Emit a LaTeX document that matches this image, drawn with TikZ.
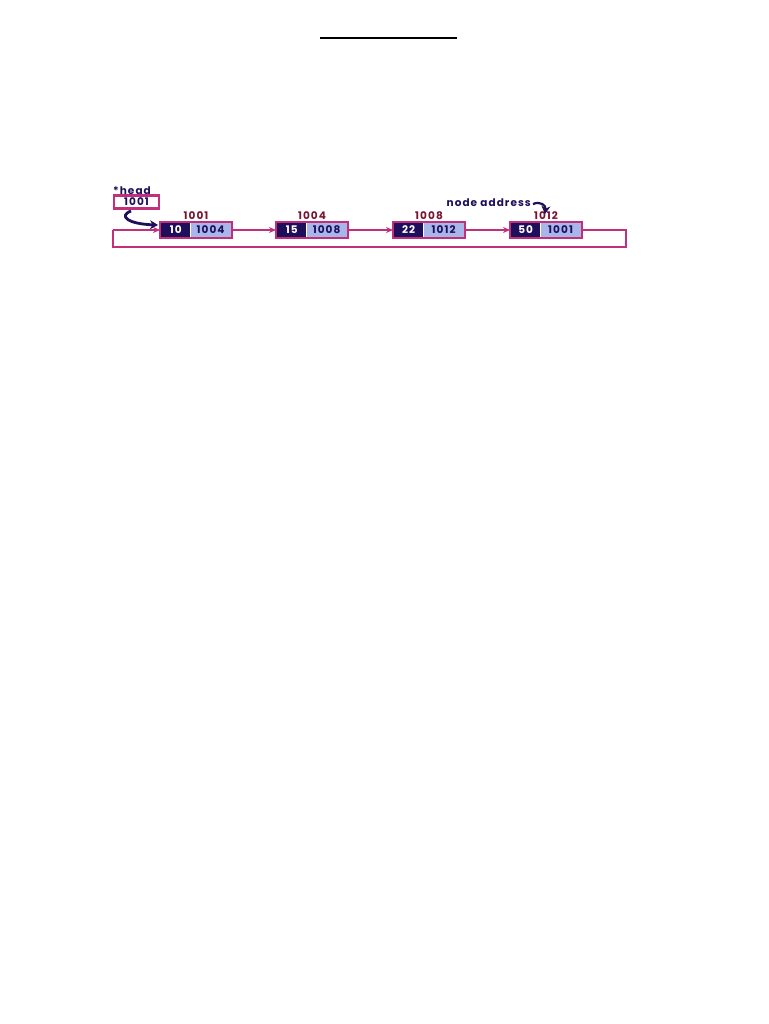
\documentclass[tikz,border=0pt]{standalone}
\usepackage{fontspec}
\setmainfont{Poppins}[LetterSpace=10]
\usetikzlibrary{arrows.meta}
\definecolor{mag}{HTML}{C2307C}
\definecolor{navy}{HTML}{1E0E5C}
\definecolor{lite}{HTML}{A8B6EA}
\definecolor{maroon}{HTML}{7A1430}
\tikzset{
  txt/.style={font=\fontsize{10.5}{10.5}\selectfont\bfseries},
  dk/.style={txt, fill=navy, text=white, minimum width=29pt, minimum height=14pt, inner sep=0pt},
  lt/.style={txt, fill=lite, text=navy, minimum width=40pt, minimum height=14pt, inner sep=0pt},
  frame/.style={draw=mag, line width=2pt},
  addr/.style={txt, text=maroon, inner sep=0pt},
  link/.style={draw=mag, line width=1.3pt, -{Stealth[length=7pt,width=6pt]}},
  ring/.style={draw=mag, line width=1.3pt},
  curv/.style={draw=navy, line width=2.8pt, -{Stealth[length=8pt,width=9pt]}}
}
\begin{document}
\begin{tikzpicture}[x=1pt,y=-1pt]
\useasboundingbox (0,0) rectangle (768,1024);
\fill[white] (0,0) rectangle (768,1024);
\draw[line width=2pt] (320,38) -- (457,38);
% head
\node[txt, text=navy, anchor=south west, inner sep=0pt] (hl) at (113,194.5) {*head};
\node[txt, draw=mag, line width=2.5pt, text=navy, minimum width=45pt, minimum height=13pt, inner sep=0pt] (head) at (136.5,202) {1001};
% nodes
\foreach \i/\x/\d/\p/\a in {1/160/10/1004/1001, 2/276/15/1008/1004, 3/393/22/1012/1008, 4/510/50/1001/1012}{
  \node[dk, anchor=west] (d\i) at (\x+1,230) {\d};
  \node[lt, anchor=west] (p\i) at (d\i.east) {\p};
  \draw[frame] (\x,222) rectangle (\x+72,238);
  \coordinate (L\i) at (\x,230);
  \coordinate (R\i) at (\x+72,230);
  \node[addr] (a\i) at (\x+36,216) {\a};
}
\draw[link] (R1) -- (L2);
\draw[link] (R2) -- (L3);
\draw[link] (R3) -- (L4);
\coordinate (c1) at (626,230);
\coordinate (c2) at (626,247);
\coordinate (c3) at (113,247);
\coordinate (c4) at (113,230);
\draw[ring] (R4) -- (c1) -- (c2) -- (c3) -- (c4);
\draw[link] (c4) -- (L1);
% head arrow
\coordinate (h0) at (131,211);
\coordinate (h1) at (158,225);
\draw[curv] (h0) .. controls (118,216) and (128,224) .. (h1);
% node address
\node[txt, text=navy, anchor=east, inner sep=0pt] (na) at (531,203) {node address};
\coordinate (na1) at (533,204);
\coordinate (na2) at (545,214);
\draw[curv, line width=2.2pt] (na1) .. controls (540,201) and (546,205) .. (na2);
\end{tikzpicture}
\end{document}
